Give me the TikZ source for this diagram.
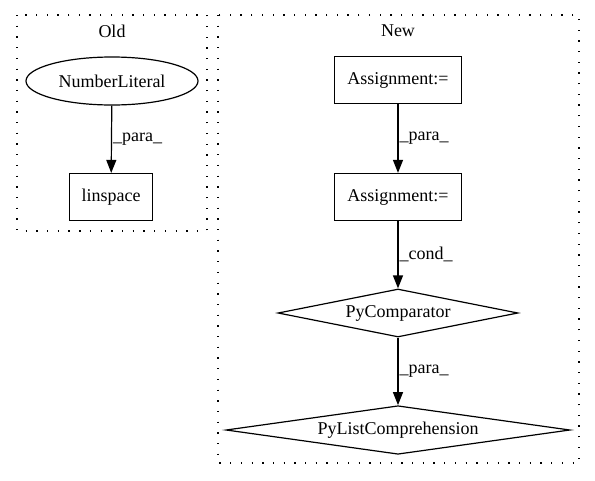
\documentclass[tikz,border=0pt]{standalone}
\usepackage{fontspec}
\setmainfont{Liberation Serif}
\usetikzlibrary{shapes.geometric,arrows.meta}
\begin{document}
\begin{tikzpicture}[x=1pt,y=-1pt,
  font=\fontsize{18}{21}\selectfont,
  cluster/.style={draw,line width=1.3pt,dash pattern=on 1.3pt off 9.4pt},
  box/.style={draw,line width=1.2pt,rectangle,minimum width=#1,minimum height=47pt,inner sep=0pt},
  ell/.style={draw,line width=1.2pt,ellipse,minimum width=172pt,minimum height=48pt,inner sep=0pt},
  dia/.style={draw,line width=1.2pt,diamond,aspect=5,minimum width=#1,minimum height=48pt,inner sep=0pt},
  edge/.style={line width=1.2pt,-{Triangle[length=13pt,width=10pt]}},
  lab/.style={anchor=west,inner sep=1pt}]
\useasboundingbox (0,0) rectangle (595,480);
% clusters
\draw[cluster] (17,15) rectangle (207,231);
\node (oldlab) at (112,31) {Old};
\draw[cluster] (218,15) rectangle (579,463);
\node (newlab) at (398,31) {New};
% old nodes
\node[ell] (nl) at (112,81) {NumberLiteral};
\node[box=83pt] (ls) at (111,197) {linspace};
% new nodes
\node[box=127pt] (a1) at (398,80) {Assignment:=};
\node[box=127pt] (a2) at (398,197) {Assignment:=};
\node[dia=240pt] (pc) at (398,313) {PyComparator};
\node[dia=344pt] (pl) at (398,430) {PyListComprehension};
% edges
\draw[edge] (nl) -- node[lab] {\_para\_} (ls);
\draw[edge] (a1) -- node[lab] {\_para\_} (a2);
\draw[edge] (a2) -- node[lab] {\_cond\_} (pc);
\draw[edge] (pc) -- node[lab] {\_para\_} (pl);
\end{tikzpicture}
\end{document}
